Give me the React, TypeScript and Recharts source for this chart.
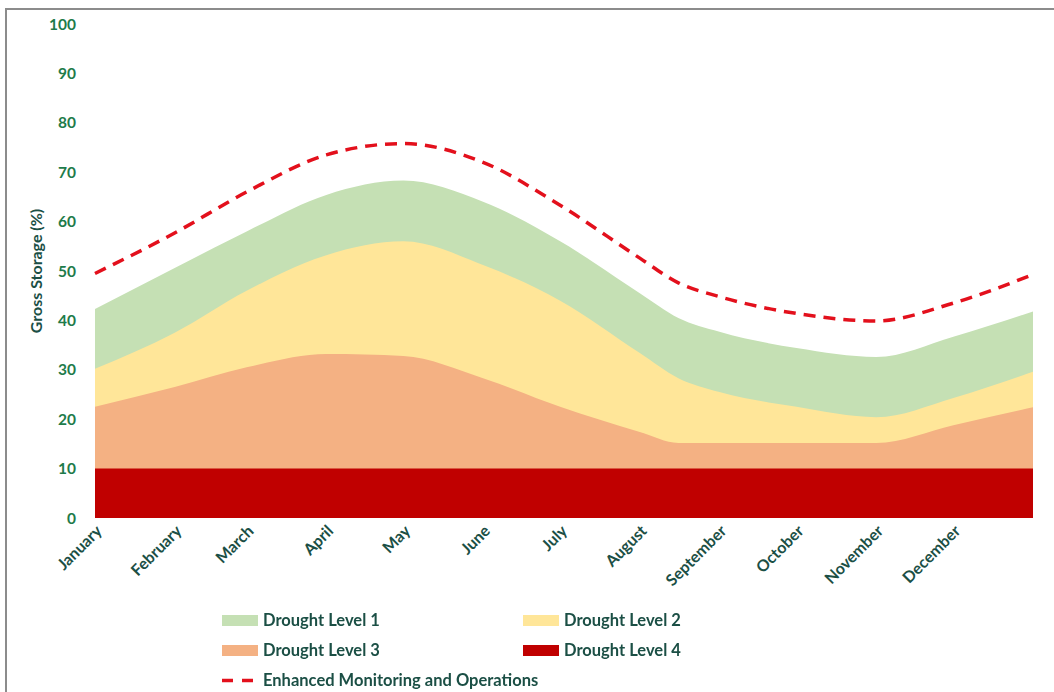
import { Area, ComposedChart, Label, Line, XAxis, YAxis } from 'recharts';

// Month labels sit on the first day of each month (day-of-year axis)
const monthNames = [
  'January', 'February', 'March', 'April', 'May', 'June',
  'July', 'August', 'September', 'October', 'November', 'December',
];
const monthStartDays = [0, 31, 59, 90, 120, 151, 181, 212, 243, 273, 304, 334];
const yTicks = [0, 10, 20, 30, 40, 50, 60, 70, 80, 90, 100];

// Trigger curves, gross storage (%) by day of year
const days = [0, 31, 59, 90, 120, 151, 181, 212, 227, 243, 273, 304, 334, 365];
const enhanced = [49.5, 57.7, 66, 73.5, 75.8, 72, 63.3, 52.6, 47.6, 44.8, 41.4, 39.9, 43.5, 49.3];
const level1 = [42.3, 50.6, 58, 65.4, 68.3, 64, 56, 45.5, 40.5, 37.7, 34.4, 32.6, 36.7, 41.8];
const level2 = [30.2, 37.5, 46, 53.2, 56, 51.2, 44, 33.4, 28.3, 25.5, 22.5, 20.4, 24.3, 29.6];
const level3 = [22.5, 26.5, 30.5, 33.2, 32.8, 28.3, 22.5, 17.4, 15.2, 15.2, 15.2, 15.2, 18.8, 22.4];
const level4 = [10, 10, 10, 10, 10, 10, 10, 10, 10, 10, 10, 10, 10, 10];

const chartData = days.map((day, i) => ({
  day,
  enhanced: enhanced[i],
  level1: level1[i],
  level2: level2[i],
  level3: level3[i],
  level4: level4[i],
}));

const areaSeries = [
  { key: 'level1', name: 'Drought Level 1', color: '#C5E0B4' },
  { key: 'level2', name: 'Drought Level 2', color: '#FFE699' },
  { key: 'level3', name: 'Drought Level 3', color: '#F4B183' },
  { key: 'level4', name: 'Drought Level 4', color: '#C00000' },
];
const lineSeries = { key: 'enhanced', name: 'Enhanced Monitoring and Operations', color: '#E3101C' };

const FONT = 'Lato, "Open Sans", sans-serif';
const AXIS_GREEN = '#1E7B4A';
const TEXT_DARK = '#1B4F45';

function Swatch({ color }: { color: string }) {
  return <span style={{ display: 'inline-block', width: 36, height: 11, background: color, marginRight: 5 }} />;
}

function DashSwatch({ color }: { color: string }) {
  return (
    <svg width={36} height={11} style={{ marginRight: 5 }}>
      <line x1={0} y1={5.5} x2={36} y2={5.5} stroke={color} strokeWidth={3.5} strokeDasharray="11 9" />
    </svg>
  );
}

function LegendBlock() {
  const item = (swatch: React.ReactNode, text: string) => (
    <div style={{ display: 'flex', alignItems: 'center', height: 30, color: TEXT_DARK, fontSize: 16.5, fontWeight: 700 }}>
      {swatch}
      <span>{text}</span>
    </div>
  );
  return (
    <div style={{ position: 'absolute', left: 215, top: 595, width: 560, fontFamily: FONT }}>
      <div style={{ display: 'grid', gridTemplateColumns: '301px 259px' }}>
        {areaSeries.map((s) => (
          <div key={s.key}>{item(<Swatch color={s.color} />, s.name)}</div>
        ))}
      </div>
      {item(<DashSwatch color={lineSeries.color} />, lineSeries.name)}
    </div>
  );
}

export default function App() {
  return (
    <div
      style={{
        position: 'fixed',
        left: 5,
        top: 8,
        width: 1049,
        height: 684,
        boxSizing: 'border-box',
        borderTop: '2px solid #8C8C8C',
        borderLeft: '2px solid #8C8C8C',
        background: '#fff',
        fontFamily: FONT,
      }}
    >
      <ComposedChart width={1047} height={682} data={chartData} margin={{ top: 14, right: 21, bottom: 0, left: 0 }}>
        <XAxis
          dataKey="day"
          type="number"
          domain={[0, 365]}
          ticks={monthStartDays}
          tickFormatter={(d: number) => monthNames[monthStartDays.indexOf(d)] ?? ''}
          interval={0}
          angle={-45}
          textAnchor="end"
          height={174}
          tickLine={false}
          axisLine={false}
          tickMargin={0}
          tick={{ fill: TEXT_DARK, fontSize: 16, fontWeight: 700, fontFamily: FONT }}
        />
        <YAxis
          domain={[0, 100]}
          ticks={yTicks}
          width={88}
          tickLine={false}
          axisLine={false}
          tickMargin={13}
          tick={{ fill: AXIS_GREEN, fontSize: 15.5, fontWeight: 700, fontFamily: FONT }}
        >
          <Label
            value="Gross Storage (%)"
            angle={-90}
            position="insideLeft"
            offset={29}
            style={{ textAnchor: 'middle', fill: TEXT_DARK, fontSize: 16, fontWeight: 700, fontFamily: FONT }}
          />
        </YAxis>
        {areaSeries.map((s) => (
          <Area
            key={s.key}
            dataKey={s.key}
            name={s.name}
            type="monotone"
            baseValue={0}
            stroke="none"
            fill={s.color}
            fillOpacity={1}
            isAnimationActive={false}
          />
        ))}
        <Line
          dataKey={lineSeries.key}
          name={lineSeries.name}
          type="monotone"
          stroke={lineSeries.color}
          strokeWidth={3.5}
          strokeDasharray="12 8"
          dot={false}
          isAnimationActive={false}
        />
      </ComposedChart>
      <LegendBlock />
    </div>
  );
}
